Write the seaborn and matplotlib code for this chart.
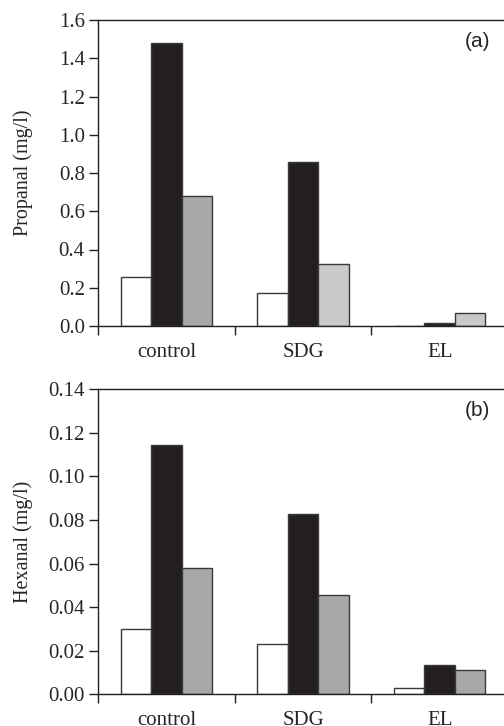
import numpy as np
import pandas as pd
import matplotlib
matplotlib.use("Agg")
import matplotlib.pyplot as plt
import seaborn as sns

categories = ["control", "SDG", "EL"]
series = ["A", "B", "C"]
propanal_A = [0.258, 0.171, 0.0]
propanal_B = [1.478, 0.856, 0.017]
propanal_C = [0.680, 0.326, 0.066]
hexanal_A = [0.0298, 0.0230, 0.0029]
hexanal_B = [0.1144, 0.0826, 0.0135]
hexanal_C = [0.0580, 0.0454, 0.0110]
prop_ticks = [0.0, 0.2, 0.4, 0.6, 0.8, 1.0, 1.2, 1.4, 1.6]
hex_ticks = [0.00, 0.02, 0.04, 0.06, 0.08, 0.10, 0.12, 0.14]

sns.set_theme(style="white")
plt.rcParams["font.family"] = ["Liberation Serif", "DejaVu Serif"]

def long(a, b, c):
    rows = []
    for s, vals in zip(series, [a, b, c]):
        for cat, v in zip(categories, vals):
            rows.append({"cat": cat, "series": s, "value": v})
    return pd.DataFrame(rows)

df_p = long(propanal_A, propanal_B, propanal_C)
df_h = long(hexanal_A, hexanal_B, hexanal_C)

W, H = 504, 726
fig = plt.figure(figsize=(W / 100, H / 100), dpi=100)
ax1 = fig.add_axes([98 / W, (H - 326) / H, 410 / W, 306 / H])
ax2 = fig.add_axes([98 / W, (H - 694.3) / H, 410 / W, 305 / H])

palette = {"A": "#ffffff", "B": "#231f20", "C": "#a7a8aa"}
edge = "#3a3a3a"

def draw(ax, df, ticks, fmt, ylabel, tag):
    sns.barplot(data=df, x="cat", y="value", hue="series", hue_order=series,
                order=categories, palette=palette, width=0.667, gap=0,
                edgecolor=edge, linewidth=1.0, saturation=1, legend=False,
                errorbar=None, ax=ax)
    ax.set_xlim(-0.5, 2.5)
    ax.set_ylim(ticks[0], ticks[-1])
    ax.set_yticks(ticks)
    ax.set_yticklabels([fmt.format(t) for t in ticks], fontsize=15)
    ax.set_xticks([-0.5, 0.5, 1.5, 2.5])
    ax.set_xticklabels([])
    ax.set_xticks([0, 1, 2], minor=True)
    ax.set_xticklabels(categories, minor=True, fontsize=15)
    ax.tick_params(axis="x", which="minor", length=0, pad=12)
    ax.tick_params(axis="x", which="major", direction="out", length=6.5,
                   width=1.0, color="#222222", bottom=True)
    ax.tick_params(axis="y", direction="out", length=6.5, width=1.0,
                   color="#222222", left=True, pad=3)
    ax.set_xlabel("")
    ax.set_ylabel(ylabel, fontsize=14.5)
    ax.yaxis.set_label_coords(-0.158, 0.5)
    for side in ["left", "bottom", "top"]:
        ax.spines[side].set_visible(True)
        ax.spines[side].set_color("#222222")
        ax.spines[side].set_linewidth(1.0)
    ax.spines["right"].set_visible(False)
    ax.text(0.925, 0.93, tag, transform=ax.transAxes, ha="center", va="center",
            fontsize=15, family=["Liberation Sans", "DejaVu Sans"])

draw(ax1, df_p, prop_ticks, "{:.1f}", "Propanal (mg/l)", "(a)")
draw(ax2, df_h, hex_ticks, "{:.2f}", "Hexanal (mg/l)", "(b)")

# lighter grey for SDG and EL third bars in panel (a)
bars = [p for p in ax1.patches]
for p in bars[-2:]:
    p.set_facecolor("#c8c9cb")

fig.savefig("out.png", dpi=100)
